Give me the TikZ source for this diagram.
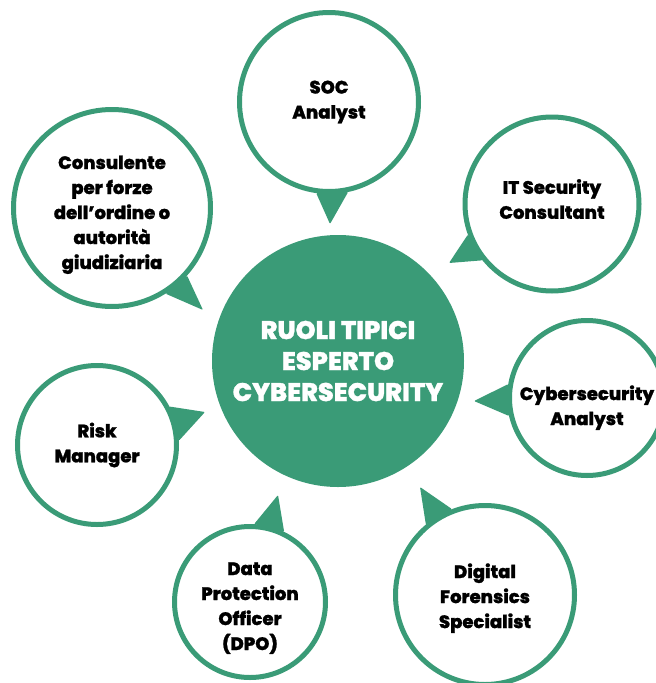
\documentclass[tikz,border=0pt]{standalone}
\usepackage{fontspec}
\setmainfont{Poppins}[BoldFont={Poppins ExtraBold}, BoldFeatures={FakeBold=1.2}]
\usetikzlibrary{backgrounds}
\definecolor{rolegreen}{HTML}{3A9B77}
\tikzset{
  role/.style={circle, draw=rolegreen, line width=5pt, fill=white, inner sep=0pt,
    align=center, font=\fontsize{18}{25}\selectfont\bfseries},
  hub/.style={circle, fill=rolegreen, inner sep=0pt, minimum size=252pt,
    align=center, text=white, font=\fontsize{25.5}{31}\selectfont\bfseries},
  tail/.style={fill=rolegreen, rounded corners=1pt}
}
\begin{document}
\begin{tikzpicture}[x=1pt, y=-1pt]
        \useasboundingbox (0,0) rectangle (656,683);
        % central circle
        \node[hub] (hub) at (338,361) {RUOLI TIPICI\\ESPERTO\\CYBERSECURITY};
        % roles around it (struts move the text a little off the centre)
        \node[role, minimum size=179pt] (soc)      at (329,102) {SOC\\Analyst};
        \node[role, minimum size=197pt] (consul)   at (112,208) {\rule{0pt}{27pt}Consulente\\per forze\\dell’ordine o\\autorità\\giudiziaria};
        \node[role, minimum size=174pt] (itsec)    at (552,204) {IT Security\\Consultant\rule[-10pt]{0pt}{10pt}};
        \node[role, minimum size=155pt] (analyst)  at (587,398) {\rule{0pt}{34pt}Cybersecurity\\Analyst};
        \node[role, minimum size=159pt] (risk)     at (97,445)  {Risk\\Manager};
        \node[role, minimum size=151pt] (dpo)      at (250,602) {\rule{0pt}{25pt}Data\\Protection\\Officer\\(DPO)};
        \node[role, minimum size=179pt] (forensic) at (485,595) {\rule{0pt}{21pt}Digital\\Forensics\\Specialist};
        % tips of the tails
        \coordinate (soctip)      at (330,224);
        \coordinate (consultip)   at (203,310);
        \coordinate (itsectip)    at (449,263);
        \coordinate (analysttip)  at (474,401);
        \coordinate (risktip)     at (205,412);
        \coordinate (dpotip)      at (278,495);
        \coordinate (forensictip) at (420,487);
        % tails
        \begin{scope}[on background layer]
          \fill[tail] (soc.-98)      -- (soctip)      -- (soc.-78)      -- cycle;
          \fill[tail] (consul.-58)   -- (consultip)   -- (consul.-42)   -- cycle;
          \fill[tail] (itsec.-160)   -- (itsectip)    -- (itsec.-141)   -- cycle;
          \fill[tail] (analyst.170)  -- (analysttip)  -- (analyst.-167) -- cycle;
          \fill[tail] (risk.28)      -- (risktip)     -- (risk.3)       -- cycle;
          \fill[tail] (dpo.87)       -- (dpotip)      -- (dpo.64)       -- cycle;
          \fill[tail] (forensic.-249) -- (forensictip) -- (forensic.-230) -- cycle;
        \end{scope}
\end{tikzpicture}
\end{document}
